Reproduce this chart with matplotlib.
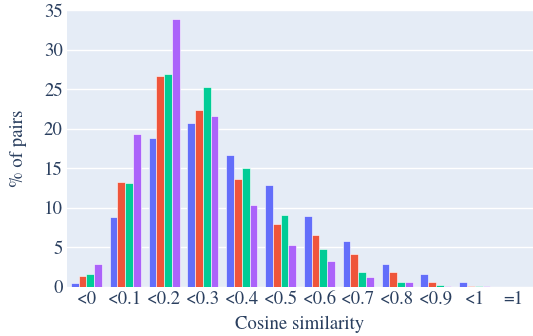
import matplotlib
matplotlib.use("Agg")
import matplotlib.pyplot as plt
import numpy as np

categories = ["<0", "<0.1", "<0.2", "<0.3", "<0.4", "<0.5", "<0.6", "<0.7", "<0.8", "<0.9", "<1", "=1"]
series_a = [0.42, 8.8, 18.85, 20.7, 16.65, 12.9, 8.9, 5.7, 2.9, 1.56, 0.55, 0.0]
series_b = [1.35, 13.2, 26.7, 22.3, 13.6, 7.9, 6.5, 4.06, 1.86, 0.63, 0.03, 0.0]
series_c = [1.6, 13.1, 26.95, 25.3, 15.0, 9.1, 4.8, 1.78, 0.63, 0.13, 0.01, 0.0]
series_d = [2.9, 19.3, 33.8, 21.6, 10.3, 5.2, 3.25, 1.18, 0.63, 0.1, 0.01, 0.0]
colors = ["#636EFA", "#EF553B", "#00CC96", "#AB63FA"]

plt.rcParams['font.family'] = ['TeX Gyre Termes', 'STIXGeneral', 'DejaVu Serif']
txt = "#2a3f5f"

fig = plt.figure(figsize=(5.33, 3.36), dpi=100)
ax = fig.add_axes([67/533, (336-286.5)/336, 466/533, 276.5/336])
ax.set_facecolor("#E5ECF6")

x = np.arange(len(categories))
w = 0.2
for i, (vals, c) in enumerate(zip([series_a, series_b, series_c, series_d], colors)):
    ax.bar(x + (i - 1.5) * w, vals, width=w, color=c, edgecolor="white", linewidth=0.4, zorder=3)

ax.set_xlim(-0.5, len(categories) - 0.5)
ax.set_ylim(0, 35)
ax.set_yticks(np.arange(0, 36, 5))
ax.set_xticks(x)
ax.set_xticklabels(categories)
ax.grid(axis="y", color="white", linewidth=1, zorder=0)
ax.set_axisbelow(True)
for s in ax.spines.values():
    s.set_visible(False)
ax.tick_params(length=0, labelsize=13.5, colors=txt, pad=3)
ax.set_xlabel("Cosine similarity", fontsize=13.5, color=txt, labelpad=6)
ax.set_ylabel("% of pairs", fontsize=13.5, color=txt, labelpad=12)

fig.savefig("out.png", dpi=100)
